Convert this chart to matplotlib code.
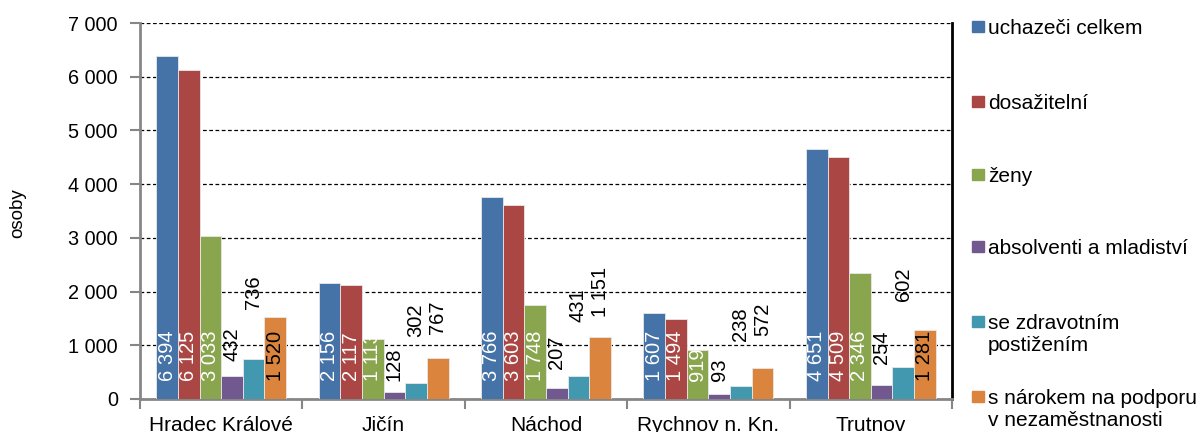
import matplotlib.pyplot as plt
from matplotlib.patches import Rectangle
import numpy as np

plt.rcParams['font.family'] = ['Liberation Sans', 'DejaVu Sans']

# data
okresy = ['Hradec Králové', 'Jičín', 'Náchod', 'Rychnov n. Kn.', 'Trutnov']
serie = ['uchazeči celkem', 'dosažitelní', 'ženy', 'absolventi a mladiství',
         'se zdravotním\npostižením', 's nárokem na podporu\nv nezaměstnanosti']
uchazeci = [6394, 2156, 3766, 1607, 4651]
dosazitelni = [6125, 2117, 3603, 1494, 4509]
zeny = [3033, 1113, 1748, 919, 2346]
absolventi = [432, 128, 207, 93, 254]
zdravotni = [736, 302, 431, 238, 602]
podpora = [1520, 767, 1151, 572, 1281]

colors = ['#4572A7', '#AA4643', '#89A54E', '#71588F', '#4198AF', '#DB843D']

# where the rotated value labels start (bottom of text), data units
# default = inside base of the bar
label_y = {
    (0, 3): 705, (0, 4): 1670,
    (1, 4): 1150, (1, 5): 1205,
    (2, 3): 557, (2, 4): 1430, (2, 5): 1520,
    (3, 4): 1077, (3, 5): 1170,
    (4, 3): 650, (4, 4): 1820,
}
white_labels = {0, 1, 2}

def fmt(v):
    return f'{v:,}'.replace(',', ' ')

fig = plt.figure(figsize=(12.03, 4.32), dpi=100)
ax = fig.add_axes([140 / 1203, 1 - 399 / 432, 812 / 1203, 376 / 432])

values = [uchazeci, dosazitelni, zeny, absolventi, zdravotni, podpora]
x = np.arange(len(okresy))
w = 0.1333
for i, vals in enumerate(values):
    pos = x + (i - 2.5) * w
    ax.bar(pos, vals, w, color=colors[i], edgecolor='#e8e8e8', linewidth=0.6, zorder=3)
    for j, v in enumerate(vals):
        y0 = label_y.get((j, i), 330)
        col = 'white' if i in white_labels else 'black'
        ax.text(pos[j], y0, fmt(v), rotation=90, ha='center', va='bottom',
                fontsize=14.5, color=col, zorder=5)

ax.set_xlim(-0.5, len(okresy) - 0.5)
ax.set_ylim(0, 7000)
ax.set_yticks(range(0, 7001, 1000))
ax.set_yticklabels([fmt(t) for t in range(0, 7001, 1000)], fontsize=14.3)
ax.yaxis.grid(True, color='black', linestyle=(0, (3, 2)), linewidth=0.9, zorder=0)

ax.set_xticks(np.arange(-0.5, len(okresy), 1.0))
ax.set_xticklabels([])
ax.set_xticks(x, minor=True)
ax.set_xticklabels(okresy, minor=True, fontsize=15)
ax.tick_params(axis='x', which='minor', length=0, pad=12)
ax.tick_params(axis='x', which='major', length=7, width=1.5, color='#868686', direction='out')
ax.tick_params(axis='y', length=7, width=1.5, color='#868686', direction='out', pad=9)

for s in ['left', 'bottom']:
    ax.spines[s].set_color('#868686')
    ax.spines[s].set_linewidth(2)
ax.spines['top'].set_visible(False)
ax.spines['right'].set_color('black')
ax.spines['right'].set_linewidth(2)

fig.text(18 / 1203, 1 - 213 / 432, 'osoby', rotation=90, ha='center', va='center', fontsize=13.5)

# legend drawn by hand: marker beside the first line of each entry
leg_y = [27, 102, 175, 247, 322, 397]
for i, lab in enumerate(serie):
    yc = leg_y[i]
    fig.patches.append(Rectangle((972 / 1203, 1 - (yc + 5) / 432), 12 / 1203, 11 / 432,
                                 transform=fig.transFigure, color=colors[i]))
    fig.text(988 / 1203, 1 - (yc - 8) / 432, lab, ha='left', va='top', fontsize=15,
             linespacing=1.2)

plt.savefig('out.png', dpi=100)
